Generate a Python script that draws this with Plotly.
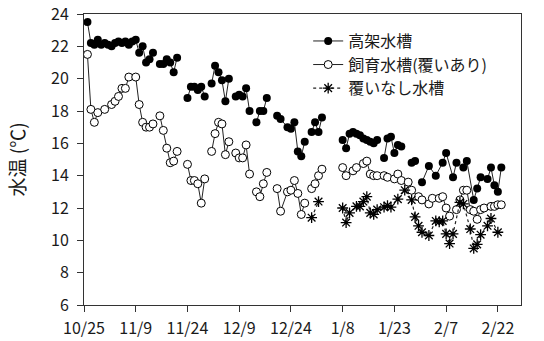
import datetime as dt
import plotly.graph_objects as go

START = dt.date(2020, 10, 25)

# 高架水槽 (day offset from 10/25, water temperature; None = no reading, line break)
high_days = [
    1, 2, 3, 4, 5, 6, 7, 8, 9, 10, 11, 12, 13, 14, 15, 16, 17, 18, 19, 20, 21,
    22, 23, 24, 25, 26, 27, 28,
    30, 31, 32, 33, 34, 35, 36,
    37, 38, 39, 40, 41, 42, 43,
    44, 45, 46, 47, 48, 49,
    50, 51, 52, 53, 54,
    56, 57, 59, 60, 61, 62, 63, 64, 65,
    66, 67, 68, 69, 70,
    75, 76, 77, 78, 79, 80, 81, 82, 83, 84, 85, 86,
    87, 88, 89, 90, 91, 92, 93,
    95, 96, 97,
    98, 100, 102, 104, 105, 107, 108, 109,
    110, 111, 113, 114, 115, 116,
    117, 118, 119, 120, 121,
]
high_temp = [
    23.5, 22.2, 22.1, 22.4, 22.1, 22.2, 22.1, 22.0, 22.2, 22.3, 22.2, 22.3, 22.1, 22.3, 22.4,
    21.6, 22.0, 21.0, 21.2, 21.6, None,
    20.9, 20.9, 21.2, 21.0, 20.4, 21.3, None,
    18.8, 19.5, 19.5, 19.3, 19.5, 18.9, None,
    19.7, 20.8, 20.4, 19.9, 18.6, 20.0, None,
    18.9, 19.0, 18.9, 19.4, 18.0, None,
    17.3, 18.0, 18.0, 18.8, None,
    17.7, 17.5, 17.0, 16.9, 17.3, 15.5, 15.2, 16.1, None,
    16.7, 17.3, 16.7, 17.6, None,
    16.2, 15.7, 16.6, 16.7, 16.6, 16.5, 16.3, 16.2, 16.1, 16.0, 16.2, None,
    15.1, 16.3, 16.4, 15.4, 15.9, 15.8, None,
    14.8, 14.9, None,
    13.6, 14.6, 14.0, 14.8, 15.4, 13.9, 14.8, None,
    14.5, 14.9, 12.5, 13.2, 13.9, None,
    13.8, 14.5, 13.4, 13.0, 14.5,
]

# 飼育水槽(覆いあり)
cov_days = [
    1, 2, 3, 4, 6, 8, 9, 10, 11, 12, 13, 14,
    15, 16, 17, 18, 19, 20, 21,
    22, 23, 24, 25, 26, 27, 28,
    30, 31, 32, 33, 34, 35, 36,
    37, 38, 39, 40, 41, 42, 43,
    44, 45, 46, 47, 48, 49,
    50, 51, 52, 53, 54,
    56, 57, 59, 60, 61, 62, 63, 64, 65,
    66, 67, 68, 69, 70,
    75, 76, 78, 79, 81, 82, 83, 84, 85, 87, 88, 90, 91, 92, 94, 95, 97, 98, 100,
    101, 103, 104, 105, 106, 108, 109, 110, 111, 112, 113, 114, 115, 116, 118,
    119, 120, 121,
]
cov_temp = [
    21.5, 18.1, 17.3, 17.9, 18.1, 18.4, 18.6, 18.9, 19.4, 19.4, 20.1, None,
    20.1, 18.4, 17.3, 17.0, 17.0, 17.2, None,
    17.7, 16.8, 15.7, 14.8, 14.9, 15.5, None,
    14.7, 13.7, 13.7, 13.5, 12.3, 13.8, None,
    15.5, 16.6, 17.3, 17.2, 15.3, 16.1, None,
    15.4, 15.1, 15.1, 15.9, 14.1, None,
    13.0, 12.7, 13.5, 14.2, None,
    13.2, 11.8, 13.0, 13.1, 13.7, 12.9, 11.6, 12.3, None,
    13.2, 13.5, 14.0, 14.4, None,
    14.5, 14.0, 14.3, 14.5, 14.75, 14.9, 14.1, 14.0, 14.0, 14.0, 13.9, 13.8, 14.1, 13.7,
    13.6, 13.1, 12.7, 12.5, 12.25, 12.6, 12.6, 12.7, 12.0, 11.5, 11.9, 12.5, 13.1, 13.1,
    11.9, 11.8, 11.3, 11.9, 12.0, 12.1, 12.1, 12.2, 12.2,
]

# 覆いなし水槽
open_days = [
    66, 68, 69,
    75, 76, 77, 79, 80, 81, 82, 83, 84, 85, 87, 88, 89, 91, 93, 95, 96, 97, 98, 100,
    102, 103, 104, 105, 106, 107, 109, 110, 112, 113, 114, 115, 117, 118, 120,
]
open_temp = [
    11.4, 12.4, None,
    12.0, 11.1, 11.7, 12.1, 12.1, 12.4, 12.7, 11.7, 11.6, 11.9, 12.05, 12.15, 12.05,
    12.55, 13.1, 12.5, 11.45, 10.9, 10.5, 10.3, 11.2, 11.15, 11.2, 10.4, 9.8, 10.4,
    12.35, 12.25, 10.7, 9.5, 9.75, 10.35, 10.9, 11.35, 10.5,
]

tick_labels = ["10/25", "11/9", "11/24", "12/9", "12/24", "1/8", "1/23", "2/7", "2/22"]
tick_days = [0, 15, 30, 45, 60, 75, 90, 105, 120]

for d, t in ((high_days, high_temp), (cov_days, cov_temp), (open_days, open_temp)):
    assert len(d) == len(t)


def to_dates(days):
    return [START + dt.timedelta(days=d) for d in days]


FONT = "Noto Sans CJK JP"
INK = "#1a1a1a"
AXIS = "#333333"

fig = go.Figure()
fig.add_trace(go.Scatter(
    x=to_dates(high_days), y=high_temp, name="高架水槽", mode="lines+markers",
    line=dict(color="#222222", width=1),
    marker=dict(symbol="circle", size=8, color="black"),
    connectgaps=False, legend="legend",
))
fig.add_trace(go.Scatter(
    x=to_dates(cov_days), y=cov_temp, name="飼育水槽(覆いあり)", mode="lines+markers",
    line=dict(color="#222222", width=1),
    marker=dict(symbol="circle", size=8, color="white", line=dict(color="black", width=1)),
    connectgaps=False, legend="legend2",
))
fig.add_trace(go.Scatter(
    x=to_dates(open_days), y=open_temp, name="覆いなし水槽", mode="lines+markers",
    line=dict(color="#222222", width=1.2, dash="dot"),
    marker=dict(symbol="asterisk-open", size=9, color="black", line=dict(color="black", width=1.3)),
    connectgaps=False, legend="legend3",
))

legend_style = dict(
    x=0.513, xanchor="left", yanchor="middle",
    bgcolor="rgba(0,0,0,0)", font=dict(size=16, family=FONT, color=INK),
    itemwidth=30,
)

x_end = dt.datetime(2021, 2, 28, 17, 0)
fig.update_layout(
    width=544, height=341,
    margin=dict(l=84, r=23, t=14, b=36, autoexpand=False),
    paper_bgcolor="white", plot_bgcolor="white",
    font=dict(family=FONT, color=INK, size=16),
    showlegend=True,
    legend=dict(y=0.907, **legend_style),
    legend2=dict(y=0.826, **legend_style),
    legend3=dict(y=0.745, **legend_style),
    xaxis=dict(
        type="date", automargin=False,
        range=[dt.datetime(2020, 10, 25), x_end],
        tickvals=to_dates(tick_days), ticktext=tick_labels,
        ticks="outside", ticklen=6, tickcolor=AXIS, ticklabelstandoff=3,
        showline=True, linecolor=AXIS, linewidth=1, mirror=True,
        showgrid=False, zeroline=False,
        tickfont=dict(size=16, family=FONT, color=INK),
    ),
    yaxis=dict(
        range=[6, 24], dtick=2, tick0=6, automargin=False,
        ticks="outside", ticklen=6, tickcolor=AXIS, ticklabelstandoff=5,
        showline=True, linecolor=AXIS, linewidth=1, mirror=True,
        showgrid=False, zeroline=False,
        tickfont=dict(size=16, family=FONT, color=INK),
        title=dict(text="水温 (℃)", font=dict(size=19, family=FONT, color=INK), standoff=20),
    ),
)

fig.write_html("out.html")
